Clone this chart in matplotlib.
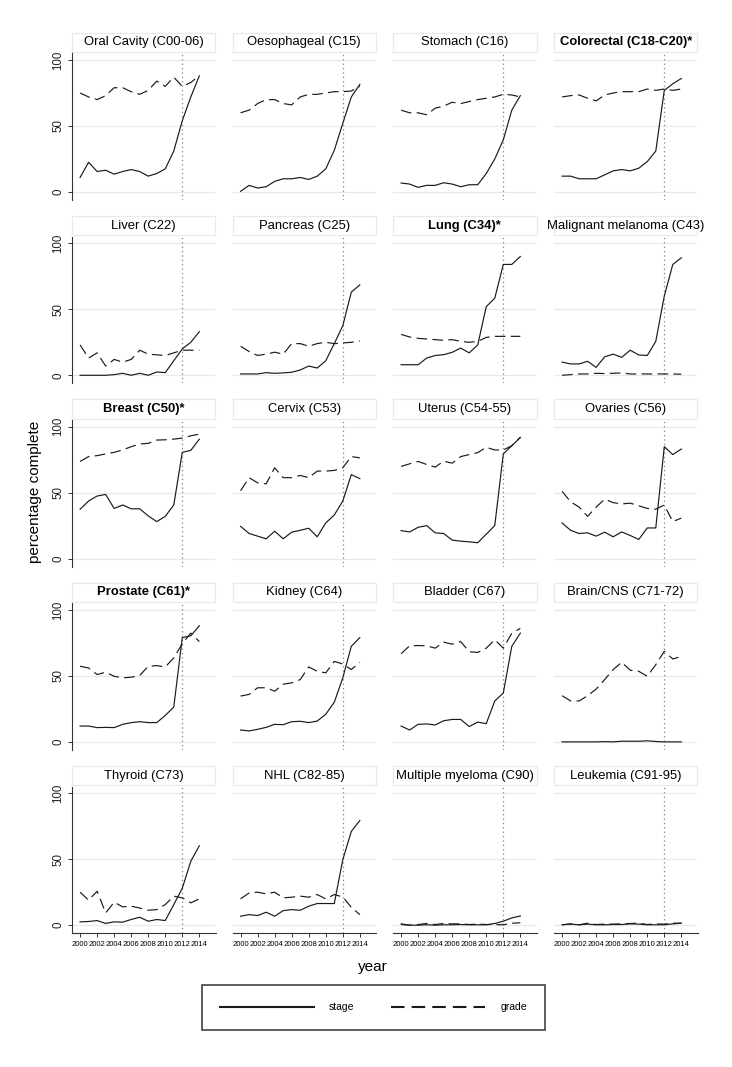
import numpy as np
import matplotlib
matplotlib.use("Agg")
import matplotlib.pyplot as plt
from matplotlib.patches import Rectangle
from matplotlib.lines import Line2D

plt.rcParams['font.family'] = ['Liberation Sans', 'DejaVu Sans']

years = list(range(2000, 2015))

# stage / grade completeness per cancer site (percent)
oral_stage = [11, 22.5, 15.5, 16.5, 13.5, 15.5, 17, 15.5, 12, 14, 17.5, 31, 54, 72, 88]
oral_grade = [75, 72, 70, 73, 79, 79, 76, 74, 77, 84, 80, 87, 80, 83, 88]
oeso_stage = [0.5, 5, 3, 4, 8, 10, 10, 11, 9.5, 12, 17.5, 31.5, 52, 72, 81.5]
oeso_grade = [60, 62, 67, 70, 70, 67, 66, 72, 74, 74, 75, 76, 76, 76.5, 80]
stom_stage = [6.8, 6, 3.5, 5, 5, 7, 6, 4, 5.5, 5.5, 14, 25, 39.5, 62, 73]
stom_grade = [62, 60, 60, 58.5, 63.5, 65, 68, 67, 68.5, 70, 71, 72, 74, 73.5, 72]
colo_stage = [12, 12, 10, 10, 10, 13, 16, 17, 16, 18, 23, 31, 77, 82, 86]
colo_grade = [72, 73, 73.5, 71, 69, 73.5, 75, 76, 76, 76, 78, 77, 78, 77, 78]

liver_stage = [0, 0, 0, 0, 0.5, 1.5, 0, 1.5, 0, 2.5, 2, 11, 20, 25, 33]
liver_grade = [23, 13, 17, 7, 12, 10, 12, 19, 16, 15.5, 15, 17, 19, 19, 19]
panc_stage = [1, 1, 1, 2, 1.5, 1.8, 2.3, 4, 7, 5.5, 11, 24, 37.5, 63, 68.5]
panc_grade = [22, 18, 15, 16, 17.5, 16, 24, 24, 22, 24, 25, 24, 24.5, 25, 26]
lung_stage = [8, 8, 8, 13, 15, 15.6, 17.4, 20.6, 17, 23, 52, 58.4, 84, 84, 90]
lung_grade = [31, 29, 28, 27.5, 27, 26.5, 27, 25.7, 25, 25.7, 28.7, 29.5, 29.5, 29.5, 29.5]
mela_stage = [10, 8.6, 8.6, 10.6, 6, 14, 16, 13.6, 19, 15.4, 15, 25.7, 60, 84, 89]
mela_grade = [0, 0.5, 1, 1, 1.5, 1.3, 1.5, 1.8, 1, 1, 1, 1, 1, 1, 0.8]

breast_stage = [37.4, 43.6, 47.4, 48.6, 38, 40.6, 37.7, 37.7, 32.4, 28, 32, 40.6, 80.5, 82, 90.5]
breast_grade = [73.6, 77.3, 78, 79.3, 80.5, 82.3, 84.8, 86.8, 87.3, 89.8, 90, 90.5, 91.3, 93, 94.3]
cerv_stage = [24.4, 19, 17, 15, 20.7, 15, 20, 21.4, 23, 16.5, 27, 33, 43.6, 63.6, 60.6]
cerv_grade = [51.4, 61.3, 57.4, 56.6, 68.8, 61.3, 61.3, 63, 61.3, 66.3, 66.3, 66.8, 68.8, 77.3, 76.3]
uter_stage = [21.2, 20.2, 23.7, 25, 19.5, 19, 14, 13.2, 12.7, 12, 18.5, 25, 79.3, 85.5, 91.8]
uter_grade = [69.8, 71.8, 73.6, 71.3, 69.3, 73.8, 72.3, 77.3, 78.8, 80.3, 84.3, 82.3, 82.3, 85.5, 91.8]
ovar_stage = [27, 21.4, 19, 19.5, 17, 20, 16.5, 20.2, 17.5, 14.5, 23.2, 23.2, 84.8, 78.8, 83]
ovar_grade = [51, 43, 39, 32, 39, 45, 42.4, 41.4, 42, 40, 38, 37.4, 40.6, 28, 30.7]

prost_stage = [12, 12, 10.8, 11, 10.8, 13.3, 14.6, 15.3, 14.6, 14.6, 20, 26.4, 79, 80.4, 88]
prost_grade = [57.3, 56, 51, 52.8, 49.7, 48.5, 49, 50.3, 57.3, 57.8, 56.8, 63.6, 74.4, 82.4, 76]
kid_stage = [9, 8.3, 9.5, 11, 13.3, 13, 15.3, 15.6, 14.6, 15.8, 20.9, 30, 48.5, 72.4, 79]
kid_grade = [34.7, 36, 41, 41, 38.4, 43.7, 44.7, 47.2, 56.8, 53.5, 52.3, 61, 59, 54.8, 60.3]
blad_stage = [12, 9, 13.3, 13.6, 12.8, 16, 17, 17, 11.6, 15, 13.8, 31, 37, 72.4, 82.4]
blad_grade = [66.8, 72.8, 73, 72.8, 71, 75.6, 74, 76, 68.3, 67.8, 71, 77.4, 71, 82.4, 86]
brain_stage = [0, 0, 0, 0, 0, 0.2, 0, 0.5, 0.5, 0.5, 0.8, 0.3, 0, 0, 0]
brain_grade = [35, 31, 31, 35, 40, 47.2, 54.8, 60.3, 54.3, 53.5, 49.7, 58.5, 68.6, 62.8, 64.8]

thyr_stage = [2.5, 2.8, 3.5, 1.3, 2.5, 2.3, 4.3, 6, 3, 4.3, 3.5, 15.6, 28, 48.4, 60.2]
thyr_grade = [25, 19, 25.7, 9.3, 17.4, 13.9, 14.4, 13, 11.3, 11.8, 15.6, 22, 20.7, 16.9, 20]
nhl_stage = [6.8, 8, 7.3, 9.8, 6.8, 11, 11.8, 11.3, 14.4, 16.4, 16.4, 16.4, 49.6, 71, 79.3]
nhl_grade = [20, 24.4, 25, 23.7, 25, 20.7, 21.2, 22, 21.2, 23.2, 19.9, 23.2, 21.4, 13.6, 8]
myel_stage = [1, 0, 0, 0.3, 0, 0.3, 0.3, 0.5, 0.3, 0.3, 0.3, 1.3, 3, 5.5, 7]
myel_grade = [0.5, 0, 0.5, 1.3, 0.5, 1.3, 1, 1, 0.5, 0.8, 0.5, 0.5, 0.3, 1.5, 1.8]
leuk_stage = [0.3, 0.8, 0.3, 0.8, 0.3, 0.3, 0.5, 0.5, 1, 0.8, 0.3, 0.3, 0.3, 1, 1.5]
leuk_grade = [0.3, 1, 0.3, 1.5, 0.5, 0.8, 0.8, 1, 1.3, 1.5, 0.5, 1, 0.8, 1.5, 1.5]

titles = ['Oral Cavity (C00-06)', 'Oesophageal (C15)', 'Stomach (C16)', 'Colorectal (C18-C20)*',
          'Liver (C22)', 'Pancreas (C25)', 'Lung (C34)*', 'Malignant melanoma (C43)',
          'Breast (C50)*', 'Cervix (C53)', 'Uterus (C54-55)', 'Ovaries (C56)',
          'Prostate (C61)*', 'Kidney (C64)', 'Bladder (C67)', 'Brain/CNS (C71-72)',
          'Thyroid (C73)', 'NHL (C82-85)', 'Multiple myeloma (C90)', 'Leukemia (C91-95)']
bold_titles = ['Colorectal (C18-C20)*', 'Lung (C34)*', 'Breast (C50)*', 'Prostate (C61)*']

stages = [oral_stage, oeso_stage, stom_stage, colo_stage,
          liver_stage, panc_stage, lung_stage, mela_stage,
          breast_stage, cerv_stage, uter_stage, ovar_stage,
          prost_stage, kid_stage, blad_stage, brain_stage,
          thyr_stage, nhl_stage, myel_stage, leuk_stage]
grades = [oral_grade, oeso_grade, stom_grade, colo_grade,
          liver_grade, panc_grade, lung_grade, mela_grade,
          breast_grade, cerv_grade, uter_grade, ovar_grade,
          prost_grade, kid_grade, blad_grade, brain_grade,
          thyr_grade, nhl_grade, myel_grade, leuk_grade]

W, H = 732, 1067
fig = plt.figure(figsize=(W / 100, H / 100), dpi=100)

col_left = [72, 232.5, 393, 554]
ax_w = 143.5
ax_h = 146.5
row_top = [53.4, 236.7, 420, 603.3, 786.6]
grid_col = '#e2ecef'
line_col = '#1a1a1a'

for i in range(20):
    r, c = i // 4, i % 4
    ax = fig.add_axes([col_left[c] / W, 1 - (row_top[r] + ax_h) / H, ax_w / W, ax_h / H])
    ax.set_xlim(1999.05, 2015.9)
    ax.set_ylim(-6, 105)
    ax.set_yticks([0, 50, 100])
    ax.set_xticks(range(2000, 2015, 2))
    ax.yaxis.grid(True, color=grid_col, lw=0.9)
    ax.set_axisbelow(True)
    for s in ['top', 'right']:
        ax.spines[s].set_visible(False)

    ax.axvline(2012, color='#808080', lw=0.9, ls=(0, (1, 2.5)), zorder=1)
    ax.plot(years, stages[i], color=line_col, lw=0.85, zorder=3)
    ax.plot(years, grades[i], color=line_col, lw=0.85, ls=(0, (9, 4.5)), zorder=3)

    if c == 0:
        ax.spines['left'].set_color('#333333')
        ax.spines['left'].set_linewidth(0.8)
        ax.tick_params(axis='y', length=3, width=0.7, pad=2.5, labelsize=8.3,
                       color='#333333', labelcolor='#222222')
        for t in ax.get_yticklabels():
            t.set_rotation(90)
            t.set_va('center')
    else:
        ax.spines['left'].set_visible(False)
        ax.tick_params(axis='y', length=0, labelleft=False)

    if r == 4:
        ax.spines['bottom'].set_color('#333333')
        ax.spines['bottom'].set_linewidth(0.8)
        ax.tick_params(axis='x', length=3, width=0.7, pad=2.5, labelsize=5.5, color='#333333')
    else:
        ax.spines['bottom'].set_visible(False)
        ax.tick_params(axis='x', length=0, labelbottom=False)

    # title box
    ax.add_patch(Rectangle((0, 1.01), 1, 0.13, transform=ax.transAxes, clip_on=False,
                           fc='white', ec=grid_col, lw=0.9))
    ax.text(0.5, 1.075, titles[i], transform=ax.transAxes, ha='center', va='center',
            fontsize=9.4, fontweight='bold' if titles[i] in bold_titles else 'normal')

fig.text(35 / W, 1 - 492 / H, 'percentage complete', rotation=90, ha='center', va='center', fontsize=11)
fig.text(373 / W, 1 - 967 / H, 'year', ha='center', va='center', fontsize=11)

handles = [Line2D([], [], color=line_col, lw=1.5),
           Line2D([], [], color=line_col, lw=1.5, ls=(0, (6.5, 3.4)))]
leg = fig.legend(handles, ['stage', 'grade'], loc='center', ncol=2,
                 bbox_to_anchor=(373.5 / W, 1 - 1007.5 / H), fontsize=7.5,
                 handlelength=9, handletextpad=1.5, columnspacing=3.5, borderpad=1.7,
                 fancybox=False, frameon=True)
leg.get_frame().set_edgecolor('black')
leg.get_frame().set_linewidth(1.1)
leg._legend_box.sep = 0

fig.savefig('out.png', dpi=100, facecolor='white')
